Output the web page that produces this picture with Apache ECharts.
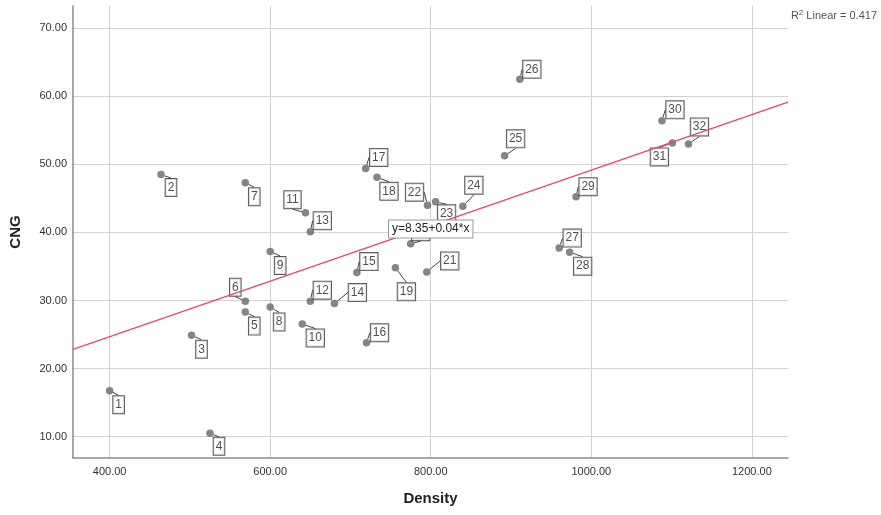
<!DOCTYPE html>
<html><head><meta charset="utf-8">
<script src="https://cdn.jsdelivr.net/npm/echarts@6/dist/echarts.min.js"></script>
<style>html,body{margin:0;padding:0;background:#fff}#c{width:881px;height:515px}</style>
</head><body><div id="c"></div>
<script>
// ---- data ----
const caseIds = [1,2,3,4,5,6,7,8,9,10,11,12,13,14,15,16,17,18,19,20,21,22,23,24,25,26,27,28,29,30,31,32];
const density = [400,464,502,525,569,569,569,600,600,640,644,650,650,680,708,720,719,733,756,775,795,796,806,840,892,911,960,973,981,1088,1101,1121];
const cng = [16.75,48.5,24.9,10.5,28.3,29.9,47.3,29.05,37.2,26.55,42.9,29.9,40.1,29.55,34.1,23.8,49.4,48.1,34.8,38.35,34.2,44.0,44.5,43.85,51.25,62.5,37.7,37.1,45.25,56.4,53.15,53.0];
const xTicks = [400,600,800,1000,1200];
const yTicks = [10,20,30,40,50,60,70];
const fitIntercept = 8.35, fitSlope = 0.0408;
const equationText = 'y=8.35+0.04*x';
const rSquared = '0.417';

// ---- layout (label displacement per case, px) ----
const labelOffsets = [
 [9,14],[10,13],[10,14],[9,13],[9,14],[-10,-14],[9,14],[9,15],[10,14],[13,14],
 [-13,-13],[12,-11],[12,-11],[23,-11],[12,-11],[13,-10],[13,-11],[12,14],[11,24],[10,-12],
 [23,-11],[-13,-13],[11,12],[11,-21],[11,-17],[12,-10],[13,-10],[13,14],[12,-10],[13,-11],
 [-13,14],[11,-17]
];

const X_MIN = 354.4, X_MAX = 1245, Y_MIN = 6.87, Y_MAX = 73.26;
const FONT = 'Liberation Sans, Arial, sans-serif';

const pts = density.map((d,i)=>[d, cng[i], caseIds[i]]);
const fitLine = [[X_MIN, fitIntercept + fitSlope*X_MIN],[X_MAX, fitIntercept + fitSlope*X_MAX]];

const chart = echarts.init(document.getElementById('c'));
chart.setOption({
  animation:false,
  backgroundColor:'#fff',
  grid:{left:71,right:93,top:6,bottom:57},
  xAxis:{
    type:'value', min:X_MIN, max:X_MAX,
    name:'Density', nameLocation:'middle', nameGap:33,
    nameTextStyle:{fontFamily:FONT,fontSize:15,fontWeight:'bold',color:'#222'},
    axisLine:{show:true,onZero:false,lineStyle:{color:'#8a8a8a',width:1.5}},
    axisTick:{show:false,customValues:xTicks},
    axisLabel:{customValues:xTicks,margin:8,fontFamily:FONT,fontSize:11,color:'#333',formatter:v=>v.toFixed(2)},
    splitLine:{show:true,lineStyle:{color:'#d2d2d2',width:1}}
  },
  yAxis:{
    type:'value', min:Y_MIN, max:Y_MAX,
    name:'CNG', nameLocation:'middle', nameGap:50,
    nameTextStyle:{fontFamily:FONT,fontSize:15,fontWeight:'bold',color:'#222'},
    axisLine:{show:true,onZero:false,lineStyle:{color:'#8a8a8a',width:1.5}},
    axisTick:{show:false,customValues:yTicks},
    axisLabel:{customValues:yTicks,margin:6,fontFamily:FONT,fontSize:11,color:'#333',formatter:v=>v.toFixed(2)},
    splitLine:{show:true,lineStyle:{color:'#d2d2d2',width:1}}
  },
  series:[
    {
      type:'scatter', data:pts, symbolSize:7.5, z:3,
      itemStyle:{color:'#666'},
      label:{show:true,position:'inside',formatter:p=>String(p.data[2]),
        fontFamily:FONT,fontSize:12,color:'#222',backgroundColor:'#fff',
        borderColor:'#333',borderWidth:1,padding:[3,2,2,2]},
      labelLine:{show:true,length2:0,lineStyle:{color:'#444',width:1}},
      labelLayout:function(p){const o=labelOffsets[p.dataIndex];return {dx:o[0],dy:o[1]};}
    },
    {
      type:'line', data:fitLine, symbol:'none', z:4, silent:true,
      lineStyle:{color:'#e8476f',width:1.3},
      markPoint:{
        symbol:'rect',symbolSize:1,itemStyle:{color:'rgba(0,0,0,0)'},
        data:[{coord:[800,40.5]}],
        label:{show:true,position:'inside',formatter:equationText,
          fontFamily:FONT,fontSize:12,color:'#222',backgroundColor:'#fff',
          borderColor:'#999',borderWidth:1,padding:[3,3,2,3]},
        z:10
      }
    }
  ],
  graphic:[{
    type:'text', right:4, top:9, z:20,
    style:{text:'R{s|2} Linear = '+rSquared,
      rich:{s:{fontSize:8,verticalAlign:'top',padding:[0,0,5,0],fontFamily:FONT,fill:'#555'}},
      font:'11px '+FONT, fill:'#555'}
  }]
});
</script></body></html>
